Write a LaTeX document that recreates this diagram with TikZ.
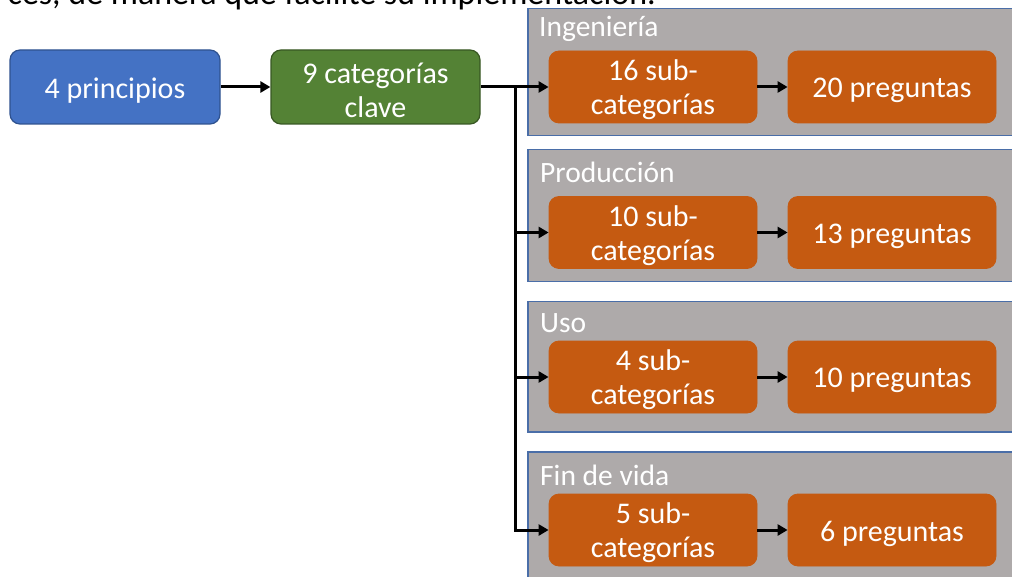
\documentclass[tikz,border=0pt]{standalone}
\usepackage{fontspec}
\setmainfont{Carlito}
\usetikzlibrary{arrows.meta}
\definecolor{cblue}{HTML}{4472C4}
\definecolor{cblueb}{HTML}{2F528F}
\definecolor{cgreen}{HTML}{548235}
\definecolor{cgreenb}{HTML}{385723}
\definecolor{corange}{HTML}{C55A11}
\definecolor{cgray}{HTML}{AEAAAA}
\definecolor{cpanelb}{HTML}{4A6EA8}
\tikzset{
  box/.style={rectangle, rounded corners=10pt, inner sep=0pt},
  btext/.style={text=white, align=center, font=\fontsize{30}{34}\selectfont, inner sep=0pt},
  bluebox/.style={box, fill=cblue, draw=cblueb, line width=1.2pt, minimum width=210pt, minimum height=74pt},
  greenbox/.style={box, fill=cgreen, draw=cgreenb, line width=1.2pt, minimum width=209pt, minimum height=74pt},
  orbox/.style={box, fill=corange, draw=corange, line width=0.8pt, minimum width=208pt, minimum height=72pt},
  panel/.style={rectangle, fill=cgray, draw=cpanelb, line width=1.5pt, minimum width=500pt, anchor=north west, inner sep=0pt},
  plabel/.style={anchor=base west, text=white, font=\fontsize{29.5}{34}\selectfont, inner sep=0pt},
  conn/.style={line width=3pt, -{Triangle[length=10pt,width=11pt]}},
}
\begin{document}
\begin{tikzpicture}[x=1pt,y=-1pt]
\useasboundingbox (0,0) rectangle (1012,577);
\clip (0,0) rectangle (1012,577);
% top cut-off text
\node[anchor=base east, inner sep=0pt, font=\fontsize{34}{38}\selectfont] (toptext) at (656,5) {ces, de manera que facilite su implementación.};
% panels
\node[panel, minimum height=127pt] (pIng) at (527,8) {};
\node[panel, minimum height=132pt] (pProd) at (527,149) {};
\node[panel, minimum height=130pt] (pUso) at (527,301) {};
\node[panel, minimum height=140pt] (pFin) at (527,451) {};
\node[plabel] (lIng) at (539,37) {Ingeniería};
\node[plabel] (lProd) at (540,183) {Producción};
\node[plabel] (lUso) at (540,333) {Uso};
\node[plabel] (lFin) at (540,485) {Fin de vida};
% main boxes
\node[bluebox] (prin) at (115,87) {};
\node[greenbox] (cat) at (375.5,87) {};
% orange boxes
\node[orbox] (s1) at (653,87) {};
\node[orbox] (q1) at (892,87) {};
\node[orbox] (s2) at (653,232.5) {};
\node[orbox] (q2) at (892,232.5) {};
\node[orbox] (s3) at (653,377) {};
\node[orbox] (q3) at (892,377) {};
\node[orbox] (s4) at (653,530) {};
\node[orbox] (q4) at (892,530) {};
% box texts
\node[btext] (prinT) at ([yshift=-3.5pt]prin.center) {4 principios};
\node[btext] (catT) at ([yshift=-3pt]cat.center) {9 categorías\\clave};
\node[btext] (s1T) at ([yshift=-3pt]s1.center) {16 sub-\\categorías};
\node[btext] (q1T) at ([yshift=-3.5pt]q1.center) {20 preguntas};
\node[btext] (s2T) at ([yshift=-3pt]s2.center) {10 sub-\\categorías};
\node[btext] (q2T) at ([yshift=-3.5pt]q2.center) {13 preguntas};
\node[btext] (s3T) at ([yshift=-3pt]s3.center) {4 sub-\\categorías};
\node[btext] (q3T) at ([yshift=-3.5pt]q3.center) {10 preguntas};
\node[btext] (s4T) at ([yshift=-3pt]s4.center) {5 sub-\\categorías};
\node[btext] (q4T) at ([yshift=-3.5pt]q4.center) {6 preguntas};
% connectors
\coordinate (t) at (515,87);
\draw[conn] (prin.east) -- (cat.west);
\draw[conn] (cat.east) -- (s1.west);
\draw[conn] (t) |- (s2.west);
\draw[conn] (t) |- (s3.west);
\draw[conn] (t) |- (s4.west);
\draw[conn] (s1.east) -- (q1.west);
\draw[conn] (s2.east) -- (q2.west);
\draw[conn] (s3.east) -- (q3.west);
\draw[conn] (s4.east) -- (q4.west);
\end{tikzpicture}
\end{document}
